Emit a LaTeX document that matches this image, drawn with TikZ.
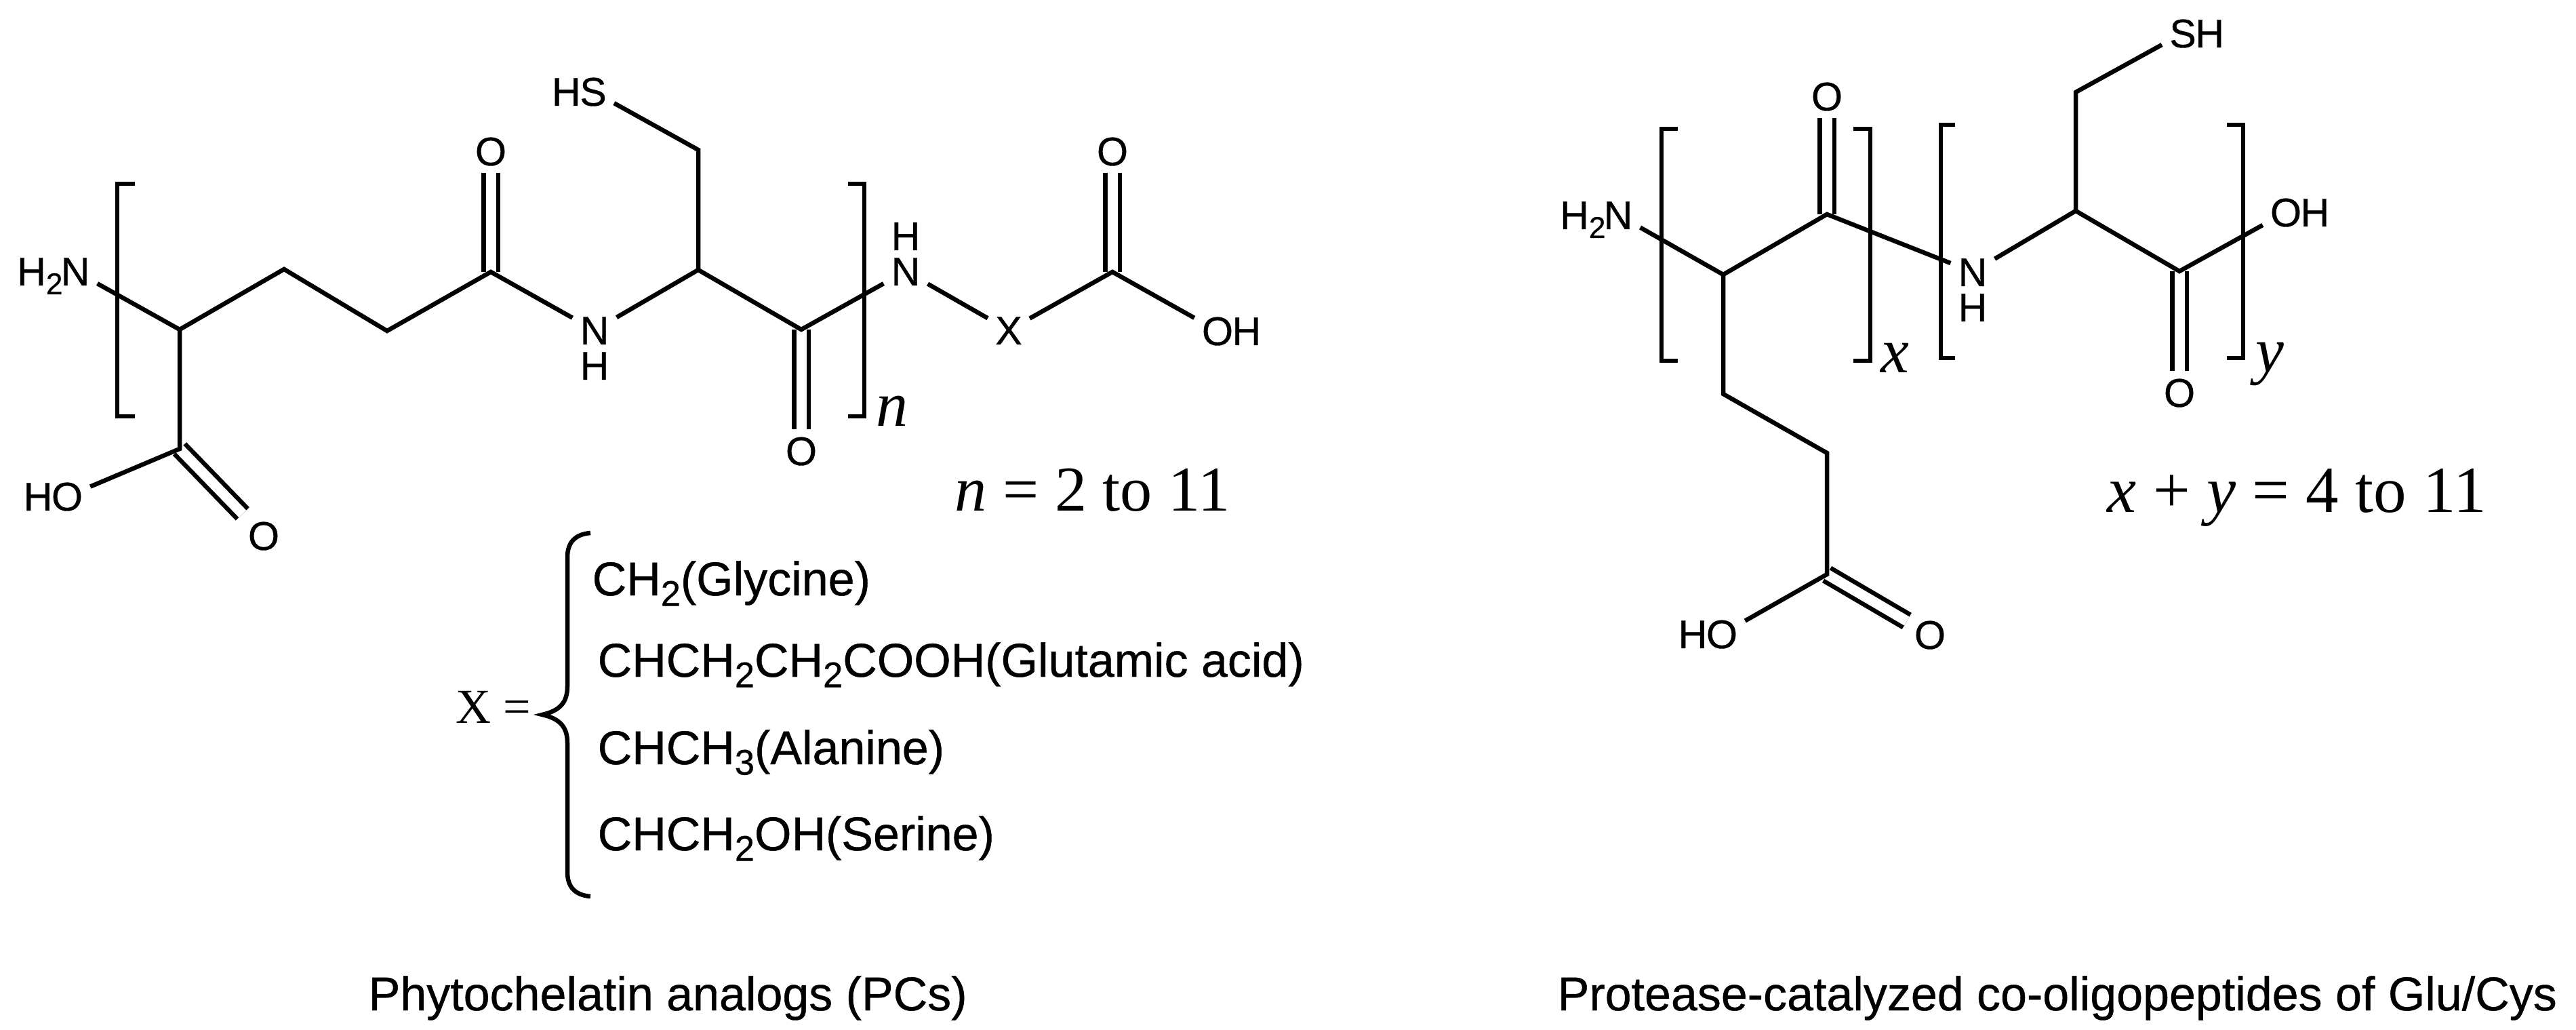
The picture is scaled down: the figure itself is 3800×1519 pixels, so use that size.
\documentclass[tikz,border=0pt]{standalone}
\usepackage{fontspec}
\setmainfont{Liberation Sans}[BoldFont={Liberation Sans},BoldFeatures={FakeBold=0.6}]
\newfontfamily\tmsfont{Liberation Serif}
\usetikzlibrary{positioning}
\newcommand{\lowidx}[1]{\raisebox{-0.22em}{\scalebox{0.75}{#1}}}
\tikzset{
	bond/.style={line width=0.065cm},
	dbond/.style={line width=0.065cm, double, double distance between line centers=0.215cm},
	bracket/.style={line width=0.065cm},
	atom/.style={font=\fontsize{16.8}{20}\selectfont\bfseries, inner sep=3pt, text height=11.9pt, text depth=0pt},
	hatom/.style={atom, inner sep=0pt},
	caption/.style={font=\fontsize{19.9}{24}\selectfont\bfseries, inner sep=0pt, anchor=base west},
	residue/.style={font=\fontsize{19.9}{24}\selectfont\bfseries, inner sep=0pt, anchor=base west},
	tms/.style={font=\fontsize{26.8}{30}\selectfont\tmsfont, inner sep=0pt, anchor=base west},
}
\begin{document}
\begin{tikzpicture}[x=0.01cm,y=-0.01cm]
	\useasboundingbox (0,0) rectangle (3800,1519);

	\coordinate (ca1) at (265,486);
	\coordinate (cb1) at (419,397);
	\coordinate (cg1) at (571,488);
	\coordinate (c1) at (724,401);
	\coordinate (ca2) at (1030,398);
	\coordinate (cb2) at (1030,221);
	\coordinate (c2) at (1182,486);
	\coordinate (c3) at (1641,401);
	\coordinate (c4) at (265,662);
	\node[atom] (n1) at (111,400) {N};
	\node[hatom, left=-4.2pt of n1] (h1) {H\lowidx{2}};
	\node[atom] (n2) at (877,487) {N};
	\node[hatom, below=-0.5pt of n2] (h2) {H};
	\node[atom] (n3) at (1336,400) {N};
	\node[hatom, above=-0.5pt of n3] (h3) {H};
	\node[atom] (s1) at (875,135) {S};
	\node[hatom, left=-3.8pt of s1] (h4) {H};
	\node[atom] (x1) at (1488,487) {X};
	\node[atom] (o1) at (724,223) {O};
	\node[atom] (o2) at (1182,665) {O};
	\node[atom] (o3) at (1641,223) {O};
	\node[atom] (o4) at (1796,488) {O};
	\node[hatom, right=-3.8pt of o4] (h5) {H};
	\node[atom] (o5) at (389,790) {O};
	\node[atom] (o6) at (99,732) {O};
	\node[hatom, left=-3.8pt of o6] (h6) {H};

	\draw [dbond] (c1) -- (o1);
	\draw [dbond] (c2) -- (o2);
	\draw [dbond] (c3) -- (o3);
	\draw [dbond] (c4) -- (o5);
	\draw [bond] (n1) -- (ca1) -- (cb1) -- (cg1) -- (c1) -- (n2) -- (ca2) -- (c2) -- (n3);
	\draw [bond] (n3) -- (x1) -- (c3) -- (o4);
	\draw [bond] (ca2) -- (cb2) -- (s1);
	\draw [bond] (ca1) -- (c4) -- (o6);
	\draw [bracket] (199,271) -- (173,271) -- (173,614) -- (199,614);
	\draw [bracket] (1251,271) -- (1275,271) -- (1275,614) -- (1251,614);

	\node[tms] (nsub) at (1292,629) {\textit{n}};
	\node[tms] (nrange) at (1408,754) {\textit{n} = 2 to 11};

	\node[tms, font=\fontsize{20.5}{24}\selectfont\tmsfont] (xeq) at (672,1066) {X =};
	\draw [bracket] (871,786) .. controls (848,788) and (837,800) .. (837,822) -- (837,1012) .. controls (837,1036) and (826,1048) .. (800,1054) .. controls (826,1060) and (837,1072) .. (837,1096) -- (837,1286) .. controls (837,1308) and (848,1320) .. (871,1322);
	\node[residue] (gly) at (873,878) {CH\lowidx{2}(Glycine)};
	\node[residue] (glu) at (881,998) {CHCH\lowidx{2}CH\lowidx{2}COOH(Glutamic acid)};
	\node[residue] (ala) at (881,1127) {CHCH\lowidx{3}(Alanine)};
	\node[residue] (ser) at (881,1254) {CHCH\lowidx{2}OH(Serine)};
	\node[caption] (capa) at (543,1490) {Phytochelatin analogs (PCs)};

	\coordinate (ca3) at (2542,405);
	\coordinate (cb3) at (2542,581);
	\coordinate (cg3) at (2695,668);
	\coordinate (c5) at (2695,316);
	\coordinate (ca4) at (3062,311);
	\coordinate (cb4) at (3062,136);
	\coordinate (c6) at (3215,400);
	\coordinate (c7) at (2695,847);
	\node[atom] (n4) at (2387,317) {N};
	\node[hatom, left=-4.2pt of n4] (h7) {H\lowidx{2}};
	\node[atom] (n5) at (2910,401) {N};
	\node[hatom, below=-0.5pt of n5] (h8) {H};
	\node[atom] (s2) at (3220,49) {S};
	\node[hatom, right=-3.8pt of s2] (h9) {H};
	\node[atom] (o7) at (2695,142) {O};
	\node[atom] (o8) at (3215,579) {O};
	\node[atom] (o9) at (3372,313) {O};
	\node[hatom, right=-3.8pt of o9] (h10) {H};
	\node[atom] (o10) at (2847,936) {O};
	\node[atom] (o11) at (2540,935) {O};
	\node[hatom, left=-3.8pt of o11] (h11) {H};

	\draw [dbond] (c5) -- (o7);
	\draw [dbond] (c6) -- (o8);
	\draw [dbond] (c7) -- (o10);
	\draw [bond] (n4) -- (ca3) -- (c5) -- (n5) -- (ca4) -- (c6) -- (o9);
	\draw [bond] (ca4) -- (cb4) -- (s2);
	\draw [bond] (ca3) -- (cb3) -- (cg3) -- (c7) -- (o11);
	\draw [bracket] (2475,190) -- (2451,190) -- (2451,532) -- (2475,532);
	\draw [bracket] (2734,190) -- (2759,190) -- (2759,532) -- (2734,532);
	\draw [bracket] (2884,184) -- (2863,184) -- (2863,528) -- (2884,528);
	\draw [bracket] (3285,184) -- (3309,184) -- (3309,528) -- (3285,528);

	\node[tms] (xsub) at (2774,550) {\textit{x}};
	\node[tms] (ysub) at (3327,549) {\textit{y}};
	\node[tms, font=\fontsize{27.6}{30}\selectfont\tmsfont] (xyrange) at (3108,755) {\textit{x} + \textit{y} = 4 to 11};
	\node[caption] (capb) at (2297,1490) {Protease-catalyzed co-oligopeptides of Glu/Cys};
\end{tikzpicture}
\end{document}
